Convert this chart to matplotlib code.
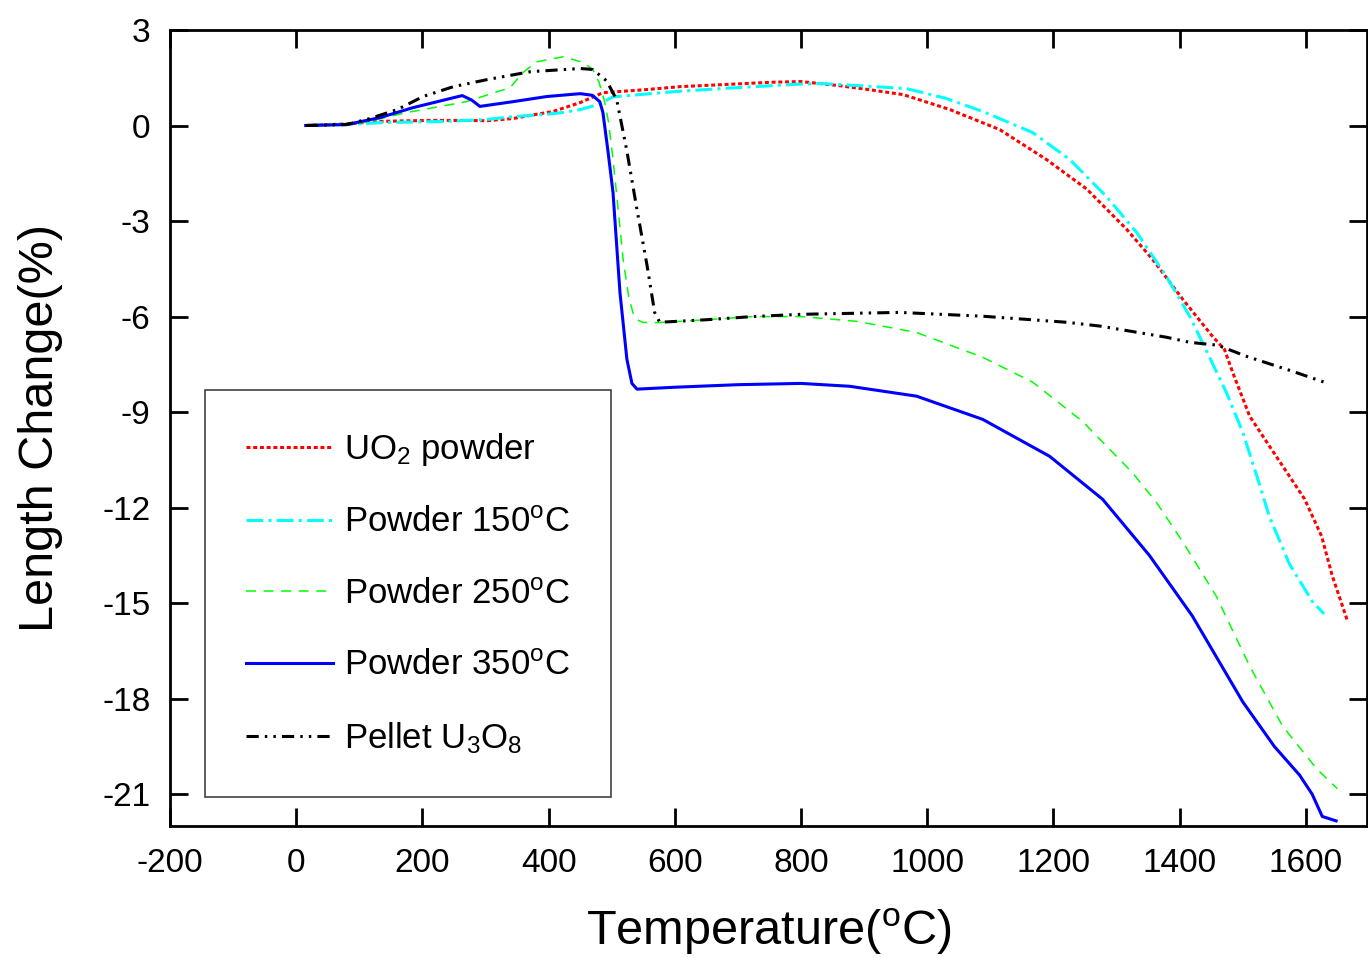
import matplotlib
matplotlib.use('Agg')
import matplotlib.pyplot as plt

plt.rcParams['font.family'] = ['Liberation Sans', 'DejaVu Sans']
plt.rcParams['mathtext.fontset'] = 'custom'
plt.rcParams['mathtext.rm'] = 'Liberation Sans'
plt.rcParams['mathtext.it'] = 'Liberation Sans'
plt.rcParams['mathtext.default'] = 'regular'
plt.rcParams['axes.unicode_minus'] = False

# UO2 powder
t_uo2 = [15, 80, 133, 212, 264, 302, 344, 371, 407, 450, 486, 556, 608, 682, 755, 800, 861, 910,
         962, 1036, 1115, 1189, 1253, 1316, 1357, 1405, 1452, 1471, 1484, 1511, 1553, 1598, 1625, 1642, 1666]
dl_uo2 = [0, 0.05, 0.13, 0.16, 0.16, 0.15, 0.22, 0.32, 0.44, 0.72, 1.03, 1.13, 1.22, 1.29, 1.36, 1.38, 1.25, 1.12,
          0.97, 0.5, -0.13, -1.07, -2.0, -3.26, -4.2, -5.46, -6.62, -7.03, -7.75, -9.13, -10.39, -11.73, -12.9, -14.15, -15.56]

# powder 150C
t_150 = [15, 80, 133, 239, 302, 344, 397, 423, 450, 477, 502, 603, 682, 787, 830, 893, 967, 1030,
         1088, 1167, 1226, 1284, 1332, 1379, 1416, 1436, 1474, 1500, 1527, 1542, 1574, 1611, 1629]
dl_150 = [0, 0.03, 0.09, 0.13, 0.19, 0.28, 0.35, 0.41, 0.5, 0.65, 0.9, 1.07, 1.17, 1.29, 1.32, 1.25, 1.16, 0.85,
          0.44, -0.22, -1.07, -2.23, -3.36, -4.74, -5.99, -6.81, -8.38, -9.63, -11.3, -12.27, -13.77, -14.97, -15.34]

# powder 250C
t_250 = [15, 106, 176, 270, 339, 359, 381, 423, 455, 470, 480, 488, 495, 502, 510, 518, 527, 534, 542, 549,
         565, 650, 724, 800, 888, 983, 1088, 1167, 1246, 1325, 1363, 1405, 1458, 1511, 1563, 1617, 1650]
dl_250 = [0, 0.09, 0.41, 0.75, 1.19, 1.66, 2.0, 2.16, 1.98, 1.76, 1.35, 0.8, 0.1, -1.07, -2.6, -4.2, -5.4, -5.9, -6.12, -6.18,
          -6.2, -6.1, -6.0, -6.0, -6.15, -6.5, -7.28, -8.06, -9.29, -10.9, -11.83, -13.08, -14.78, -16.98, -18.86, -20.2, -20.83]

# powder 350C
t_350 = [15, 80, 133, 185, 263, 278, 291, 344, 397, 450, 469, 481, 486, 494, 502, 513, 524, 532, 540,
         600, 700, 800, 877, 983, 1088, 1194, 1278, 1352, 1420, 1500, 1550, 1590, 1610, 1626, 1648]
dl_350 = [0, 0.03, 0.25, 0.56, 0.94, 0.8, 0.6, 0.75, 0.91, 1.0, 0.95, 0.75, 0.41, -0.8, -2.1, -5.24, -7.34, -8.1, -8.28,
          -8.22, -8.14, -8.1, -8.19, -8.5, -9.23, -10.39, -11.74, -13.5, -15.4, -18.1, -19.5, -20.4, -21.0, -21.7, -21.84]

# pellet U3O8
t_pel = [15, 80, 117, 160, 201, 249, 302, 371, 450, 470, 492, 508, 524, 540, 556, 568, 576,
         650, 724, 800, 956, 1088, 1221, 1274, 1379, 1416, 1460, 1506, 1579, 1629]
dl_pel = [0, 0.03, 0.22, 0.5, 0.91, 1.22, 1.44, 1.69, 1.79, 1.76, 1.4, 0.8, -0.8, -2.64, -4.4, -5.87, -6.18,
          -6.1, -6.0, -5.93, -5.87, -5.99, -6.18, -6.3, -6.65, -6.81, -6.9, -7.25, -7.72, -8.06]

labels = [r'UO$_2$ powder', r'Powder 150$^{o}$C', r'Powder 250$^{o}$C',
          r'Powder 350$^{o}$C', r'Pellet U$_3$O$_8$']

fig = plt.figure(figsize=(13.68, 9.58), dpi=100)
ax = fig.add_axes([0.1243, 0.1378, 0.8750, 0.8309])

ax.plot(t_uo2, dl_uo2, color='#ff0000', lw=2.2, ls=(0, (1.3, 0.9)), label=labels[0])
ax.plot(t_150, dl_150, color='#00ffff', lw=2.2, ls=(0, (5.5, 1.7, 1.0, 1.7)), label=labels[1])
ax.plot(t_250, dl_250, color='#00ff00', lw=1.1, ls=(0, (6.5, 5.0)), label=labels[2])
ax.plot(t_350, dl_350, color='#0000ff', lw=2.2, ls='-', label=labels[3])
ax.plot(t_pel, dl_pel, color='black', lw=2.2, ls=(0, (4.0, 2.0, 0.8, 2.0, 0.8, 2.0)), label=labels[4])

ax.set_xlim(-200, 1697)
ax.set_ylim(-22, 3)
ax.set_xticks(range(-200, 1601, 200))
ax.set_yticks(range(-21, 4, 3))
ax.tick_params(direction='in', length=13, width=2, labelsize=24, top=True, right=True)
ax.tick_params(axis='x', pad=16)
ax.tick_params(axis='y', pad=14)
for s in ax.spines.values():
    s.set_linewidth(2)

ax.set_xlabel(r'Temperature($^{o}$C)', fontsize=35, labelpad=20)
ax.set_ylabel('Length Change(%)', fontsize=35, labelpad=28)

leg = ax.legend(loc='lower left', bbox_to_anchor=(0.029, 0.036), borderaxespad=0,
                fontsize=25, frameon=True, fancybox=False, edgecolor='black',
                handlelength=2.5, handletextpad=0.3, labelspacing=1.1, borderpad=1.2)
leg.get_frame().set_linewidth(1.1)

fig.savefig('out.png', dpi=100)
